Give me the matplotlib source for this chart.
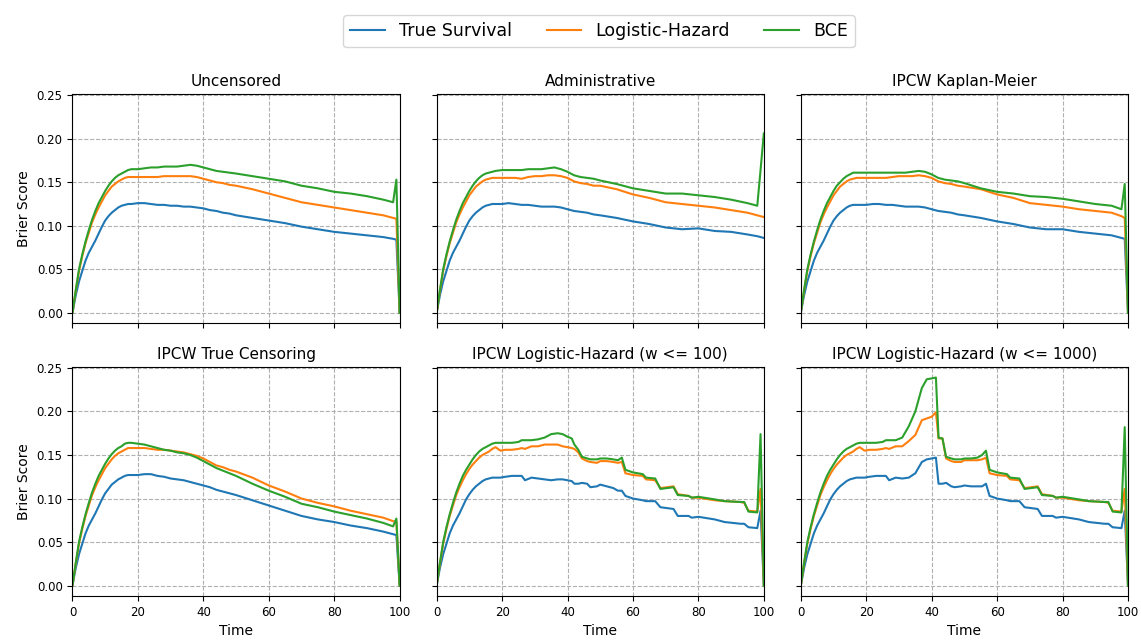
import matplotlib
matplotlib.use("Agg")
import matplotlib.pyplot as plt

labels = ["True Survival", "Logistic-Hazard", "BCE"]
titles = ["Uncensored", "Administrative", "IPCW Kaplan-Meier",
          "IPCW True Censoring", "IPCW Logistic-Hazard (w <= 100)",
          "IPCW Logistic-Hazard (w <= 1000)"]

# time grid for the smooth panels
t_smooth = [0, 1, 2, 3, 4, 5, 6, 7, 8, 9, 10, 11, 12, 13, 14, 15, 16, 17, 18,
            20, 22, 24, 26, 28, 30, 32, 34, 36, 38, 40,
            42, 44, 46, 48, 50, 55, 60, 65, 70, 75, 80, 85, 90, 95, 98, 99, 100]

# Uncensored
unc_true = [0, .020, .036, .048, .060, .069, .076, .083, .091, .099, .106, .111, .115, .118, .121, .123, .124, .125, .125,
            .126, .126, .125, .124, .124, .123, .123, .122, .122, .121, .120,
            .118, .117, .115, .114, .112, .109, .106, .103, .099, .096, .093, .091, .089, .087, .085, .084, 0]
unc_lh = [0, .025, .048, .065, .080, .092, .104, .113, .121, .128, .135, .140, .145, .148, .151, .153, .155, .156, .156,
          .156, .156, .156, .156, .157, .157, .157, .157, .157, .156, .154,
          .152, .150, .149, .147, .146, .142, .137, .132, .127, .124, .121, .118, .115, .112, .109, .108, 0]
unc_bce = [0, .026, .050, .067, .082, .095, .107, .117, .126, .133, .140, .146, .151, .155, .158, .160, .162, .164, .165,
           .165, .166, .167, .167, .168, .168, .168, .169, .170, .169, .167,
           .165, .163, .162, .161, .160, .157, .154, .151, .146, .143, .139, .137, .134, .130, .127, .153, 0]

# Administrative
adm_true = [0, .020, .036, .048, .060, .069, .076, .083, .091, .099, .106, .111, .115, .118, .121, .123, .124, .125, .125,
            .125, .126, .125, .124, .124, .123, .122, .122, .122, .121, .119,
            .117, .116, .115, .113, .112, .109, .105, .102, .098, .096, .097, .094, .093, .090, .088, .087, .086]
adm_lh = [0, .025, .048, .065, .080, .092, .104, .113, .121, .128, .135, .140, .145, .148, .151, .153, .154, .155, .155,
          .155, .155, .155, .154, .156, .157, .157, .158, .158, .157, .155,
          .151, .149, .148, .146, .146, .142, .136, .132, .127, .125, .123, .121, .118, .115, .112, .111, .110]
adm_bce = [0, .026, .050, .067, .082, .095, .107, .117, .126, .133, .140, .146, .151, .155, .158, .160, .161, .162, .163,
           .164, .164, .164, .164, .165, .165, .165, .166, .167, .165, .162,
           .158, .156, .155, .154, .152, .148, .143, .140, .137, .137, .135, .133, .130, .126, .123, .164, .206]

# IPCW Kaplan-Meier
km_true = [0, .020, .036, .048, .060, .069, .076, .083, .091, .099, .106, .111, .115, .118, .121, .123, .124, .124, .124,
           .124, .125, .125, .124, .124, .123, .122, .122, .122, .121, .119,
           .117, .116, .115, .113, .112, .109, .105, .102, .098, .096, .096, .093, .091, .089, .086, .085, 0]
km_lh = [0, .025, .048, .065, .080, .092, .104, .113, .121, .128, .135, .140, .145, .148, .151, .153, .154, .155, .155,
         .155, .155, .155, .155, .156, .157, .157, .157, .158, .157, .155,
         .151, .149, .148, .146, .145, .142, .136, .132, .126, .124, .122, .119, .117, .115, .111, .109, 0]
km_bce = [0, .026, .050, .067, .082, .095, .107, .117, .126, .133, .140, .146, .150, .154, .157, .159, .161, .161, .161,
          .161, .161, .161, .161, .161, .161, .161, .162, .163, .162, .159,
          .155, .153, .152, .151, .149, .143, .139, .137, .134, .133, .131, .128, .125, .123, .119, .148, 0]

# IPCW True Censoring
tc_true = [0, .020, .036, .048, .060, .069, .076, .083, .091, .099, .106, .111, .116, .119, .122, .124, .126, .127, .127,
           .127, .128, .128, .126, .125, .123, .122, .121, .119, .117, .115,
           .113, .110, .108, .106, .104, .098, .092, .086, .080, .076, .073, .069, .066, .062, .059, .058, 0]
tc_lh = [0, .025, .048, .065, .080, .092, .104, .113, .121, .128, .135, .140, .145, .149, .152, .154, .156, .158, .158,
         .158, .158, .157, .156, .156, .155, .154, .153, .151, .149, .146,
         .142, .138, .136, .133, .131, .124, .115, .108, .100, .095, .091, .086, .082, .078, .074, .073, 0]
tc_bce = [0, .026, .050, .067, .082, .095, .107, .117, .126, .133, .140, .146, .151, .155, .158, .160, .163, .164, .164,
          .163, .162, .160, .158, .156, .155, .153, .152, .150, .147, .143,
          .139, .135, .132, .129, .126, .117, .109, .102, .094, .090, .085, .081, .077, .072, .068, .077, 0]

# time grid for the IPCW Logistic-Hazard panels
t_lh = [0, 1, 2, 3, 4, 5, 6, 7, 8, 9, 10, 11, 12, 13, 14, 15, 16, 17, 18,
        19.5, 21, 23, 25, 26, 27, 29, 31, 33, 35, 37, 38.5, 40,
        41.3, 42.1, 43.3, 44.4, 46, 47, 49, 50, 52, 54, 55.4, 56.6, 57.7,
        60, 63, 64, 66.8, 68.4, 72.4, 73.7, 77, 78, 80, 85, 88, 92.9, 94, 95.3, 98, 99, 100]

# IPCW Logistic-Hazard (w <= 100)
w100_true = [0, .020, .036, .048, .060, .069, .076, .083, .091, .099, .105, .110, .114, .117, .120, .122, .123, .124, .124,
             .124, .125, .126, .126, .126, .121, .124, .123, .122, .121, .122, .122, .121,
             .120, .117, .117, .118, .117, .113, .114, .116, .114, .112, .109, .109, .103,
             .100, .098, .097, .097, .090, .088, .080, .080, .078, .079, .076, .073, .071, .071, .067, .066, .086, 0]
w100_lh = [0, .025, .048, .065, .080, .092, .104, .113, .121, .128, .134, .139, .143, .147, .150, .152, .154, .157, .159,
           .155, .156, .156, .157, .158, .157, .160, .160, .162, .162, .162, .160, .159,
           .158, .157, .153, .146, .143, .142, .141, .143, .143, .142, .141, .142, .129,
           .127, .126, .122, .121, .112, .114, .105, .103, .101, .101, .098, .097, .096, .095, .086, .085, .111, 0]
w100_bce = [0, .026, .050, .067, .082, .095, .107, .117, .126, .133, .139, .145, .150, .154, .157, .159, .161, .163, .164,
            .164, .164, .164, .165, .167, .167, .167, .168, .170, .174, .175, .174, .171,
            .169, .162, .156, .148, .146, .145, .145, .146, .146, .145, .144, .147, .133,
            .130, .128, .124, .123, .111, .113, .104, .103, .101, .102, .099, .097, .096, .096, .085, .084, .174, 0]

# IPCW Logistic-Hazard (w <= 1000)
w1000_true = [0, .020, .036, .048, .060, .069, .076, .083, .091, .099, .105, .110, .114, .117, .120, .122, .123, .124, .124,
              .124, .125, .126, .126, .126, .121, .124, .123, .124, .129, .142, .145, .146,
              .147, .117, .117, .118, .114, .113, .114, .115, .114, .114, .114, .117, .103,
              .100, .098, .097, .097, .090, .088, .080, .080, .078, .079, .076, .073, .071, .071, .067, .066, .086, 0]
w1000_lh = [0, .025, .048, .065, .080, .092, .104, .113, .121, .128, .134, .139, .143, .147, .150, .152, .154, .157, .159,
            .155, .156, .156, .157, .158, .157, .160, .160, .166, .173, .190, .192, .194,
            .199, .169, .169, .146, .143, .142, .142, .144, .144, .144, .145, .147, .129,
            .127, .126, .122, .121, .112, .114, .105, .103, .101, .101, .098, .097, .096, .095, .086, .085, .111, 0]
w1000_bce = [0, .026, .050, .067, .082, .095, .107, .117, .126, .133, .139, .145, .150, .154, .157, .159, .161, .163, .164,
             .164, .164, .164, .165, .167, .167, .167, .170, .183, .200, .227, .237, .238,
             .239, .170, .169, .148, .146, .145, .145, .146, .146, .147, .150, .155, .133,
             .130, .128, .124, .123, .111, .113, .104, .103, .101, .102, .099, .097, .096, .096, .085, .084, .182, 0]

panels = [
    (t_smooth, [unc_true, unc_lh, unc_bce]),
    (t_smooth, [adm_true, adm_lh, adm_bce]),
    (t_smooth, [km_true, km_lh, km_bce]),
    (t_smooth, [tc_true, tc_lh, tc_bce]),
    (t_lh, [w100_true, w100_lh, w100_bce]),
    (t_lh, [w1000_true, w1000_lh, w1000_bce]),
]

fig, axes = plt.subplots(2, 3, figsize=(11.41, 6.42), dpi=100, sharex=True, sharey=True)
fig.subplots_adjust(left=0.0635, right=0.9886, top=0.853, bottom=0.0717, wspace=0.113, hspace=0.192)

for ax, title, (t, series) in zip(axes.flat, titles, panels):
    for vals, lab, col in zip(series, labels, ["C0", "C1", "C2"]):
        ax.plot(t, vals, color=col, lw=1.5, label=lab)
    ax.set_title(title, fontsize=11)
    ax.grid(True, linestyle="--", color="#b0b0b0", lw=0.8)
    ax.tick_params(labelsize=8.5)
    ax.set_xlim(0, 100)

ax.set_xticks([0, 20, 40, 60, 80, 100])
for ax in axes[:, 0]:
    ax.set_ylabel("Brier Score", fontsize=10)
for ax in axes[1, :]:
    ax.set_xlabel("Time", fontsize=10)

handles, labs = axes[0, 0].get_legend_handles_labels()
fig.legend(handles, labs, loc="upper center", bbox_to_anchor=(0.525, 0.99), ncol=3,
           fontsize=12.5, columnspacing=2.0)

fig.savefig("out.png", dpi=100)
